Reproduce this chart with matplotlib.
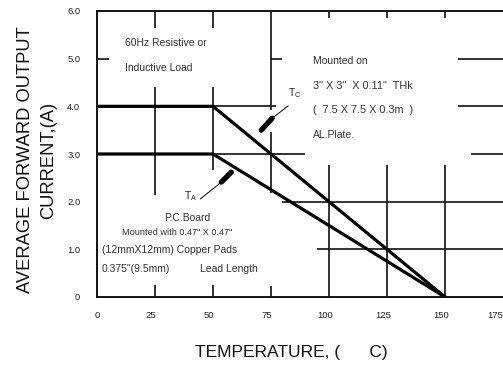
import matplotlib
matplotlib.use("Agg")
import matplotlib.pyplot as plt
from matplotlib.transforms import ScaledTranslation

plt.rcParams['font.family'] = ['Liberation Sans', 'DejaVu Sans']
plt.rcParams['mathtext.fontset'] = 'custom'
plt.rcParams['mathtext.rm'] = 'Liberation Sans'

# Data
temp_c = [0, 50, 150]          # case temperature curve (Tc)
curr_c = [4.0, 4.0, 0.0]
temp_a = [0, 50, 150]          # ambient temperature curve (TA)
curr_a = [3.0, 3.0, 0.0]
xticks = [0, 25, 50, 75, 100, 125, 150, 175]
xticklabels = ['0', '25', '50', '75', '100', '125', '150', '175']
yticks = [0, 1, 2, 3, 4, 5, 6]
yticklabels = ['0', '1.0', '2.0', '3.0', '4.0', '5.0', '6.0']

W, H = 503, 367
fig = plt.figure(figsize=(W / 100, H / 100), dpi=100)
ax = fig.add_axes([97 / W, 1 - 297 / H, (W - 97) / W, (297 - 11) / H])
ax.set_xlim(0, 174.2)
ax.set_ylim(0, 6.0)

# partial grid segments (style)
gc = '#111111'
glw = 1.2
vseg = [
    (25, [(5.64, 6.0), (2.14, 4.41), (0, 0.25)]),
    (50, [(5.64, 6.0), (2.66, 4.41), (0, 0.25)]),
    (75, [(3.92, 6.0), (2.18, 3.46), (0, 0.23)]),
    (100, [(5.85, 6.0), (0, 2.77)]),
    (125, [(5.85, 6.0), (0, 2.77)]),
    (150, [(5.85, 6.0), (0, 2.77)]),
]
for x, segs in vseg:
    for y0, y1 in segs:
        ax.plot([x, x], [y0, y1], color=gc, lw=glw, solid_capstyle='butt')
hseg = [
    (5.0, [(0, 5.1), (75, 79.8), (155.7, 175)]),
    (4.0, [(0, 77.2), (155.7, 175)]),
    (3.0, [(0, 89.7), (161.3, 175)]),
    (2.0, [(79.8, 175)]),
    (1.0, [(94.8, 175)]),
]
for y, segs in hseg:
    for x0, x1 in segs:
        ax.plot([x0, x1], [y, y], color=gc, lw=glw, solid_capstyle='butt')

# curves
ax.plot(temp_c, curr_c, color='black', lw=2.3, solid_joinstyle='miter')
ax.plot(temp_a, curr_a, color='black', lw=2.3, solid_joinstyle='miter')

# pointers
ax.plot([82.4, 75.5], [4.01, 3.75], color='black', lw=0.7)
ax.plot([75.5, 70.8], [3.75, 3.50], color='black', lw=3.8, solid_capstyle='round')
ax.plot([44.6, 53.6], [2.06, 2.41], color='black', lw=0.7)
ax.plot([53.6, 57.9], [2.41, 2.62], color='black', lw=3.8, solid_capstyle='round')
ax.text(85.4, 4.28, r'T$_{\mathrm{C}}$', fontsize=7.5, ha='center', va='center', color='#222222')
ax.text(40.3, 2.12, r'T$_{\mathrm{A}}$', fontsize=7.5, ha='center', va='center', color='#222222')

tc = '#333333'
fs = 7.5
ax.text(12.0, 5.33, '60Hz Resistive or', fontsize=fs, color=tc, va='center')
ax.text(12.0, 4.80, 'Inductive Load', fontsize=fs, color=tc, va='center')
ax.text(93.2, 4.95, 'Mounted on', fontsize=fs, color=tc, va='center')
ax.text(93.2, 4.43, '3" X 3"  X 0.11"  THk', fontsize=7.8, color=tc, va='center')
ax.text(93.2, 3.92, '(  7.5 X 7.5 X 0.3m  )', fontsize=7.8, color=tc, va='center')
ax.text(93.2, 3.40, 'AL.Plate.', fontsize=fs, color=tc, va='center')
ax.text(39.0, 1.66, 'P.C.Board', fontsize=fs, color=tc, va='center', ha='center')
ax.text(10.7, 1.35, 'Mounted with 0.47" X 0.47"', fontsize=6.6, color=tc, va='center')
ax.text(2.0, 0.99, '(12mmX12mm) Copper Pads', fontsize=fs, color=tc, va='center')
ax.text(2.0, 0.58, '0.375"(9.5mm)', fontsize=fs, color=tc, va='center')
ax.text(44.6, 0.58, 'Lead Length', fontsize=fs, color=tc, va='center')

# axes styling
for s in ['left', 'top', 'bottom']:
    ax.spines[s].set_linewidth(1.4)
    ax.spines[s].set_color(gc)
ax.spines['right'].set_visible(False)
ax.set_xticks(xticks)
ax.set_xticklabels(xticklabels)
ax.set_yticks(yticks)
ax.set_yticklabels(yticklabels)
ax.tick_params(axis='both', length=0, labelsize=6.8, colors='#222222')
ax.tick_params(axis='x', pad=10)
ax.tick_params(axis='y', pad=12)
labs = ax.get_xticklabels()
for lab in labs[1:-1]:
    lab.set_transform(lab.get_transform() + ScaledTranslation(-4 / 100, 0, fig.dpi_scale_trans))
labs[-1].set_ha('right')

ax.set_xlabel('TEMPERATURE, (      C)', fontsize=12.5, color='#111111')
ax.xaxis.set_label_coords((291 - 97) / (W - 97), -(345 - 297) / (297 - 11))
ax.set_ylabel('AVERAGE FORWARD OUTPUT\nCURRENT,(A)', fontsize=13.2, linespacing=1.45,
              color='#111111', ha='center')
ax.yaxis.set_label_coords(-(97 - 57) / (W - 97), (297 - 160) / (297 - 11))

fig.savefig('out.png', dpi=100)
